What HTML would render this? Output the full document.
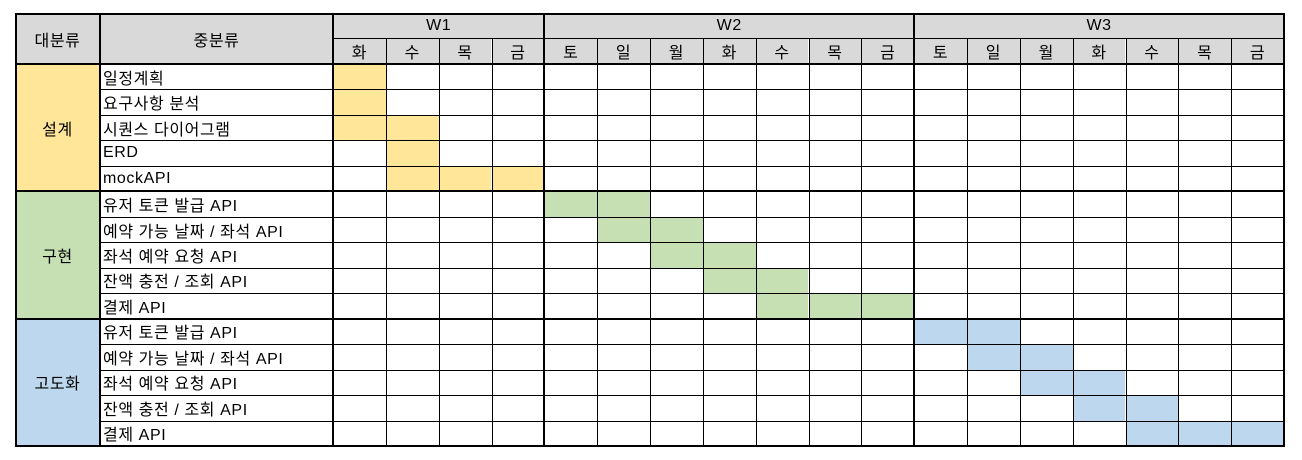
<!DOCTYPE html>
<html><head><meta charset="utf-8">
<style>
body{margin:0;background:#fff;width:1302px;height:460px;overflow:hidden;position:relative;font-family:"Liberation Sans","Noto Sans CJK KR",sans-serif;}
.c{position:absolute;box-sizing:border-box;display:flex;align-items:center;font-size:16px;color:#000;white-space:nowrap;letter-spacing:0.6px;}
.l{position:absolute;background:#000;}
</style></head><body>
<div id="chart"></div>
<script>
const weeks=['W1','W2','W3'];
const weekSpans=[4,7,7];
const days=['화','수','목','금','토','일','월','화','수','목','금','토','일','월','화','수','목','금'];
const categories=['설계','구현','고도화'];
const categoryColors=['#ffe699','#c6e0b4','#bdd7ee'];
const tasks=['일정계획','요구사항 분석','시퀀스 다이어그램','ERD','mockAPI','유저 토큰 발급 API','예약 가능 날짜 / 좌석 API','좌석 예약 요청 API','잔액 충전 / 조회 API','결제 API','유저 토큰 발급 API','예약 가능 날짜 / 좌석 API','좌석 예약 요청 API','잔액 충전 / 조회 API','결제 API'];
const taskCategory=[0,0,0,0,0,1,1,1,1,1,2,2,2,2,2];
const taskStart=[0,0,0,1,1,4,5,6,7,8,11,12,13,14,15];
const taskEnd=[0,0,1,1,3,5,6,7,8,10,12,13,14,15,17];

const root=document.getElementById('chart');
const X0=15,X1=100,X2=333,DW=(1284-333)/18,Y0=13,Y1=38,Y2=64,RH=(446-64)/15;
const dx=i=>X2+i*DW, ry=r=>Y2+r*RH;
function cell(x,y,w,h,bg,txt,center,name){
  const d=document.createElement('div');d.className='c';
  d.style.cssText=`left:${x}px;top:${y}px;width:${w}px;height:${h}px;background:${bg};justify-content:${center?'center':'flex-start'};padding-left:${center?0:3}px`;
  if(txt)d.textContent=txt;
  
  
  root.appendChild(d);
}
function line(x,y,w,h,c){
  const d=document.createElement('div');d.className='l';
  d.style.cssText=`left:${x}px;top:${y}px;width:${w}px;height:${h}px;background:${c||'#000'}`;
  
  
  root.appendChild(d);
}
cell(X0,Y0,X1-X0,Y2-Y0,'#d9d9d9','대분류',true,'header-major-category');
cell(X1,Y0,X2-X1,Y2-Y0,'#d9d9d9','중분류',true,'header-sub-category');
let acc=0;
weeks.forEach((w,i)=>{cell(dx(acc),Y0,weekSpans[i]*DW,Y1-Y0,'#d9d9d9',w,true,'week-header');acc+=weekSpans[i];});
days.forEach((d,i)=>cell(dx(i),Y1,DW,Y2-Y1,'#d9d9d9',d,true,'day-header'));
categories.forEach((c,ci)=>{
  const rows=taskCategory.map((v,i)=>v===ci?i:-1).filter(v=>v>=0);
  const a=rows[0],b=rows[rows.length-1]+1;
  cell(X0,ry(a),X1-X0,ry(b)-ry(a),categoryColors[ci],c,true,'category-cell');
});
tasks.forEach((t,i)=>{
  cell(X1,ry(i),X2-X1,RH,'#fff',t,false,'task-label');
  for(let d=taskStart[i];d<=taskEnd[i];d++) cell(dx(d),ry(i),DW,RH,categoryColors[taskCategory[i]],'',true,'gantt-bar');
});
for(let r=0;r<15;r++) line(X1,ry(r),1284-X1,1);
line(X2,Y1,1284-X2,1);
for(let d=1;d<18;d++) line(dx(d),Y1,1,446-Y1);
line(X0,Y0,1284-X0+1,2);line(X0,445,1284-X0+1,2);
line(X0,Y0,2,446-Y0);line(1283,Y0,2,446-Y0);
line(X1-1,Y0,2,446-Y0);line(X2-1,Y0,2,446-Y0);
line(X0,Y2-1,1284-X0,2);
let a2=0;weekSpans.forEach(s=>{a2+=s;if(a2<18)line(dx(a2)-1,Y0,2,446-Y0);});
for(let i=1;i<taskCategory.length;i++){if(taskCategory[i]!==taskCategory[i-1])line(X0,ry(i)-1,1284-X0,2);}
</script>
</body></html>
